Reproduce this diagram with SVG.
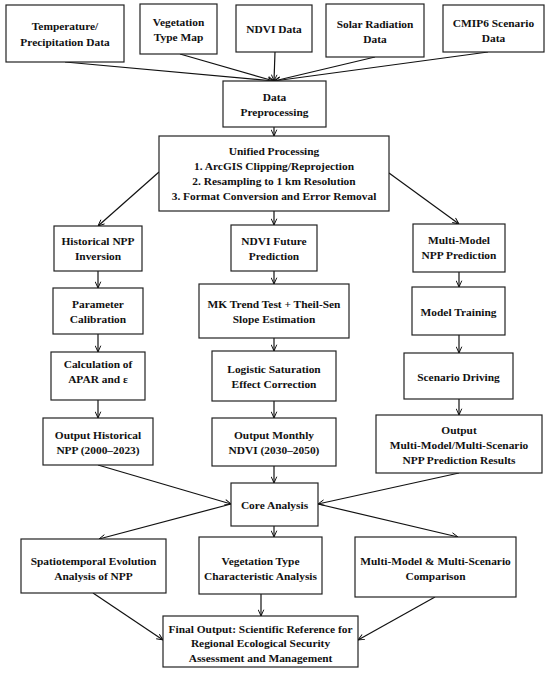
<svg xmlns="http://www.w3.org/2000/svg" width="550" height="674" viewBox="0 0 550 674">
<defs>
<marker id="ah" viewBox="0 0 10 10" refX="10" refY="5" markerWidth="7" markerHeight="7" orient="auto" markerUnits="userSpaceOnUse">
<path d="M1,1 L10,5 L1,9" fill="none" stroke="#000" stroke-width="1.3"/>
</marker>
<style>
rect{fill:#fff;stroke:#222;stroke-width:1.2}
text{font-family:"Liberation Serif","Times New Roman",serif;font-weight:bold;font-size:11.4px;text-anchor:middle;fill:#111}
.c line{stroke:#111;stroke-width:1.2;marker-end:url(#ah)}
</style>
</defs>
<rect x="0" y="0" width="550" height="674" style="fill:#fff;stroke:none"/>
<g class="c" id="connectors">
<line x1="65" y1="62" x2="274" y2="81"/>
<line x1="180" y1="54" x2="274" y2="81"/>
<line x1="275" y1="52" x2="274" y2="81"/>
<line x1="375" y1="57" x2="274" y2="81"/>
<line x1="488" y1="52" x2="274" y2="81"/>
<line x1="274" y1="127" x2="274" y2="136"/>
<line x1="159" y1="172" x2="98" y2="226"/>
<line x1="274" y1="211" x2="274" y2="225"/>
<line x1="389" y1="173" x2="459" y2="224"/>
<line x1="98" y1="271" x2="98" y2="288"/>
<line x1="98" y1="334" x2="98" y2="352"/>
<line x1="98" y1="400" x2="98" y2="418"/>
<line x1="274" y1="271" x2="274" y2="284"/>
<line x1="274" y1="338" x2="274" y2="351"/>
<line x1="274" y1="401" x2="274" y2="418"/>
<line x1="274" y1="466" x2="274" y2="483"/>
<line x1="459" y1="272" x2="459" y2="287"/>
<line x1="459" y1="335" x2="459" y2="353"/>
<line x1="459" y1="399" x2="459" y2="415"/>
<line x1="98" y1="465" x2="231" y2="504"/>
<line x1="459" y1="473" x2="318" y2="504"/>
<line x1="231" y1="504" x2="99" y2="539"/>
<line x1="318" y1="504" x2="458" y2="537"/>
<line x1="274" y1="526" x2="274" y2="537"/>
<line x1="93" y1="593" x2="163" y2="640"/>
<line x1="261" y1="594" x2="261" y2="616"/>
<line x1="435" y1="597" x2="358" y2="640"/>
</g>
<g id="temp"><rect x="6" y="5" width="118" height="57"/><text x="65" y="30">Temperature/</text><text x="65" y="46">Precipitation Data</text></g>
<g id="vegmap"><rect x="140" y="4" width="77" height="50"/><text x="178.5" y="26">Vegetation</text><text x="178.5" y="41">Type Map</text></g>
<g id="ndvi"><rect x="236" y="5" width="76" height="47"/><text x="274" y="33">NDVI Data</text></g>
<g id="solar"><rect x="326" y="4" width="98" height="53"/><text x="375" y="28">Solar Radiation</text><text x="375" y="43">Data</text></g>
<g id="cmip"><rect x="443" y="5" width="101" height="47"/><text x="493.5" y="27">CMIP6 Scenario</text><text x="493.5" y="42">Data</text></g>
<g id="prep"><rect x="223" y="81" width="103" height="46"/><text x="274.5" y="101">Data</text><text x="274.5" y="116">Preprocessing</text></g>
<g id="unified"><rect x="159" y="136" width="230" height="75"/><text x="274" y="155">Unified Processing</text><text x="274" y="170">1. ArcGIS Clipping/Reprojection</text><text x="274" y="185">2. Resampling to 1 km Resolution</text><text x="274" y="200">3. Format Conversion and Error Removal</text></g>
<g id="hist"><rect x="54" y="226" width="88" height="45"/><text x="98" y="245">Historical NPP</text><text x="98" y="260">Inversion</text></g>
<g id="ndvifut"><rect x="231" y="225" width="86" height="46"/><text x="274" y="245">NDVI Future</text><text x="274" y="260">Prediction</text></g>
<g id="mmnpp"><rect x="413" y="224" width="92" height="48"/><text x="459" y="244">Multi-Model</text><text x="459" y="259">NPP Prediction</text></g>
<g id="param"><rect x="53" y="288" width="90" height="46"/><text x="98" y="308">Parameter</text><text x="98" y="323">Calibration</text></g>
<g id="mk"><rect x="199" y="284" width="150" height="54"/><text x="274" y="308">MK Trend Test + Theil-Sen</text><text x="274" y="323">Slope Estimation</text></g>
<g id="train"><rect x="412" y="287" width="93" height="48"/><text x="458.5" y="316">Model Training</text></g>
<g id="apar"><rect x="51" y="352" width="94" height="48"/><text x="98" y="368">Calculation of</text><text x="98" y="383">APAR and ε</text></g>
<g id="logistic"><rect x="212" y="351" width="124" height="50"/><text x="274" y="373">Logistic Saturation</text><text x="274" y="388">Effect Correction</text></g>
<g id="scen"><rect x="404" y="353" width="109" height="46"/><text x="458.5" y="381">Scenario Driving</text></g>
<g id="outhist"><rect x="43" y="418" width="110" height="47"/><text x="98" y="439">Output Historical</text><text x="98" y="454">NPP (2000–2023)</text></g>
<g id="outndvi"><rect x="212" y="418" width="124" height="48"/><text x="274" y="439">Output Monthly</text><text x="274" y="454">NDVI (2030–2050)</text></g>
<g id="outmm"><rect x="376" y="415" width="166" height="58"/><text x="459" y="434">Output</text><text x="459" y="449">Multi-Model/Multi-Scenario</text><text x="459" y="464">NPP Prediction Results</text></g>
<g id="core"><rect x="231" y="483" width="87" height="43"/><text x="274.5" y="509">Core Analysis</text></g>
<g id="spatio"><rect x="21" y="539" width="145" height="54"/><text x="93.5" y="565">Spatiotemporal Evolution</text><text x="93.5" y="580">Analysis of NPP</text></g>
<g id="vegchar"><rect x="199" y="537" width="123" height="57"/><text x="260.5" y="565">Vegetation Type</text><text x="260.5" y="580">Characteristic Analysis</text></g>
<g id="compare"><rect x="355" y="537" width="161" height="60"/><text x="435.5" y="565">Multi-Model &amp; Multi-Scenario</text><text x="435.5" y="580">Comparison</text></g>
<g id="final"><rect x="163" y="616" width="195" height="51"/><text x="260.5" y="633">Final Output: Scientific Reference for</text><text x="260.5" y="647">Regional Ecological Security</text><text x="260.5" y="662">Assessment and Management</text></g>
</svg>
